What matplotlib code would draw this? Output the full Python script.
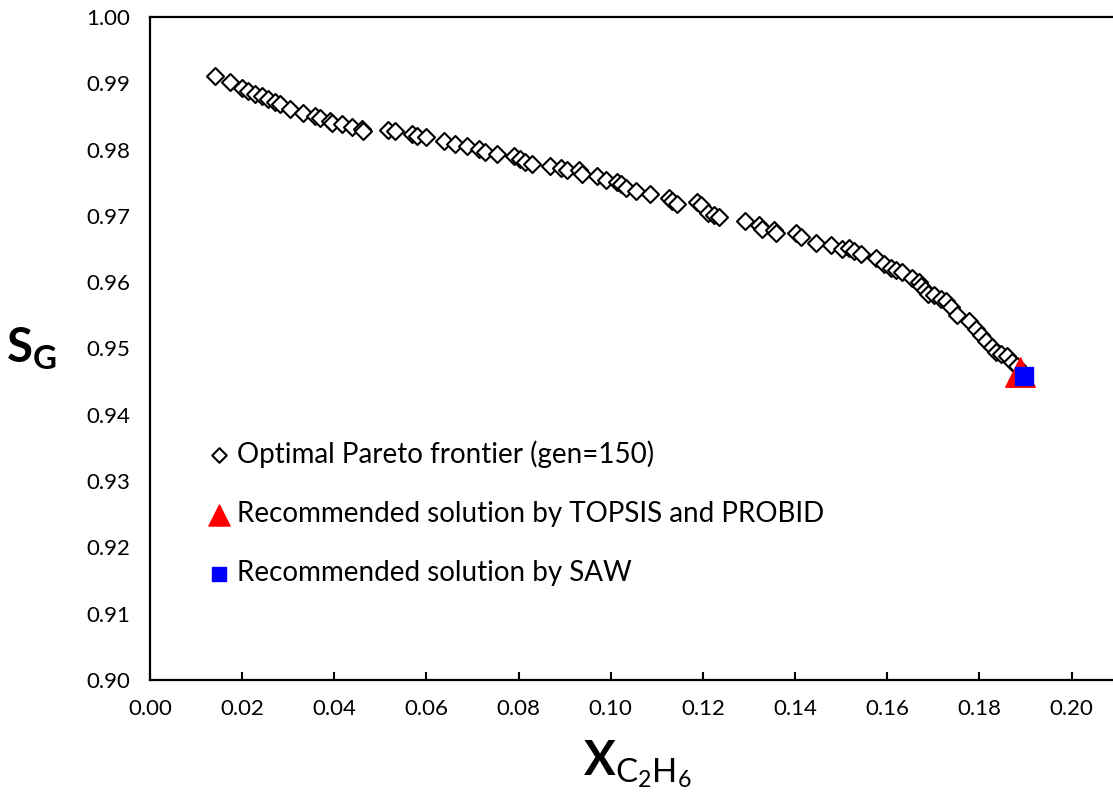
import numpy as np
import matplotlib.pyplot as plt

plt.rcParams['font.family'] = ['Lato', 'DejaVu Sans']
plt.rcParams['mathtext.fontset'] = 'custom'
plt.rcParams['mathtext.rm'] = 'Lato'
plt.rcParams['mathtext.bf'] = 'Lato:bold'

# Pareto frontier points
pareto_x = [0.0141, 0.0173, 0.0199, 0.0212, 0.0228, 0.0243, 0.0256, 0.0271, 0.0282, 0.0303,
            0.0332, 0.0358, 0.0368, 0.0390, 0.0394, 0.0416, 0.0438, 0.0459, 0.0462, 0.0516,
            0.0531, 0.0568, 0.0579, 0.0600, 0.0639, 0.0661, 0.0687, 0.0715, 0.0726, 0.0752,
            0.0791, 0.0802, 0.0813, 0.0828, 0.0867, 0.0893, 0.0904, 0.0932, 0.0938, 0.0969,
            0.0990, 0.1014, 0.1023, 0.1034, 0.1055, 0.1086, 0.1127, 0.1133, 0.1144, 0.1187,
            0.1196, 0.1211, 0.1224, 0.1235, 0.1291, 0.1322, 0.1328, 0.1354, 0.1359, 0.1402,
            0.1413, 0.1445, 0.1478, 0.1502, 0.1517, 0.1528, 0.1543, 0.1575, 0.1593, 0.1608,
            0.1619, 0.1632, 0.1653, 0.1668, 0.1673, 0.1681, 0.1688, 0.1701, 0.1716, 0.1727,
            0.1738, 0.1751, 0.1777, 0.1792, 0.1803, 0.1814, 0.1827, 0.1835, 0.1846, 0.1859,
            0.1870, 0.1881]
pareto_y = [0.9911, 0.9902, 0.9893, 0.9888, 0.9884, 0.9881, 0.9876, 0.9872, 0.9869, 0.9861,
            0.9855, 0.9850, 0.9847, 0.9843, 0.9840, 0.9838, 0.9834, 0.9831, 0.9828, 0.9829,
            0.9828, 0.9823, 0.9820, 0.9819, 0.9813, 0.9808, 0.9805, 0.9801, 0.9796, 0.9793,
            0.9790, 0.9786, 0.9782, 0.9778, 0.9776, 0.9773, 0.9769, 0.9769, 0.9763, 0.9760,
            0.9754, 0.9751, 0.9748, 0.9742, 0.9737, 0.9733, 0.9727, 0.9722, 0.9718, 0.9721,
            0.9716, 0.9705, 0.9701, 0.9698, 0.9693, 0.9686, 0.9680, 0.9678, 0.9674, 0.9674,
            0.9668, 0.9659, 0.9656, 0.9650, 0.9651, 0.9647, 0.9642, 0.9636, 0.9627, 0.9622,
            0.9619, 0.9616, 0.9607, 0.9600, 0.9594, 0.9588, 0.9582, 0.9580, 0.9574, 0.9571,
            0.9562, 0.9551, 0.9541, 0.9529, 0.9520, 0.9511, 0.9503, 0.9495, 0.9491, 0.9488,
            0.9480, 0.9473]

# recommended solutions
topsis_x = [0.1887]
topsis_y = [0.9464]
saw_x = [0.1896]
saw_y = [0.9458]

fig = plt.figure(figsize=(11.13, 7.98), dpi=100)
ax = fig.add_axes([150/1113, 1 - 680/798, 1 - 150/1113 + 0.01, (680 - 17)/798])

ax.scatter(pareto_x, pareto_y, marker='D', s=75, facecolors='white', edgecolors='black',
           linewidths=1.5, label='Optimal Pareto frontier (gen=150)', zorder=3)
ax.scatter(topsis_x, topsis_y, marker='^', s=450, color='red',
           label='Recommended solution by TOPSIS and PROBID', zorder=4)
ax.scatter(saw_x, saw_y, marker='s', s=150, color='blue',
           label='Recommended solution by SAW', zorder=5)

ax.set_xlim(0, 0.2114)
ax.set_ylim(0.90, 1.00)
ax.set_xticks(np.arange(0, 0.201, 0.02))
ax.set_xticklabels([f'{t:.2f}' for t in np.arange(0, 0.201, 0.02)])
ax.set_yticks(np.arange(0.90, 1.001, 0.01))
ax.set_yticklabels([f'{t:.2f}' for t in np.arange(0.90, 1.001, 0.01)])

ax.tick_params(axis='x', direction='in', length=6, width=1.5, labelsize=16, pad=14, colors='black')
ax.tick_params(axis='y', length=0, labelsize=16, pad=14)
for s in ['left', 'bottom', 'top']:
    ax.spines[s].set_linewidth(1.6)
ax.spines['right'].set_visible(False)

ax.set_xlabel(r'$\mathbf{X}_{\mathrm{C_2H_6}}$', fontsize=34, labelpad=14)
ax.set_ylabel(r'$\mathbf{S_G}$', fontsize=34, rotation=0, labelpad=40, va='center')

# legend with point markers, custom placement
leg = ax.legend(loc='upper left', bbox_to_anchor=(0.057, 0.362), frameon=False, fontsize=20,
                handlelength=1.0, handletextpad=0.15, labelspacing=1.2, scatterpoints=1,
                borderaxespad=0, borderpad=0)
leg.legend_handles[0].set_sizes([55])
leg.legend_handles[1].set_sizes([230])
leg.legend_handles[2].set_sizes([100])

fig.savefig('out.png', dpi=100)
